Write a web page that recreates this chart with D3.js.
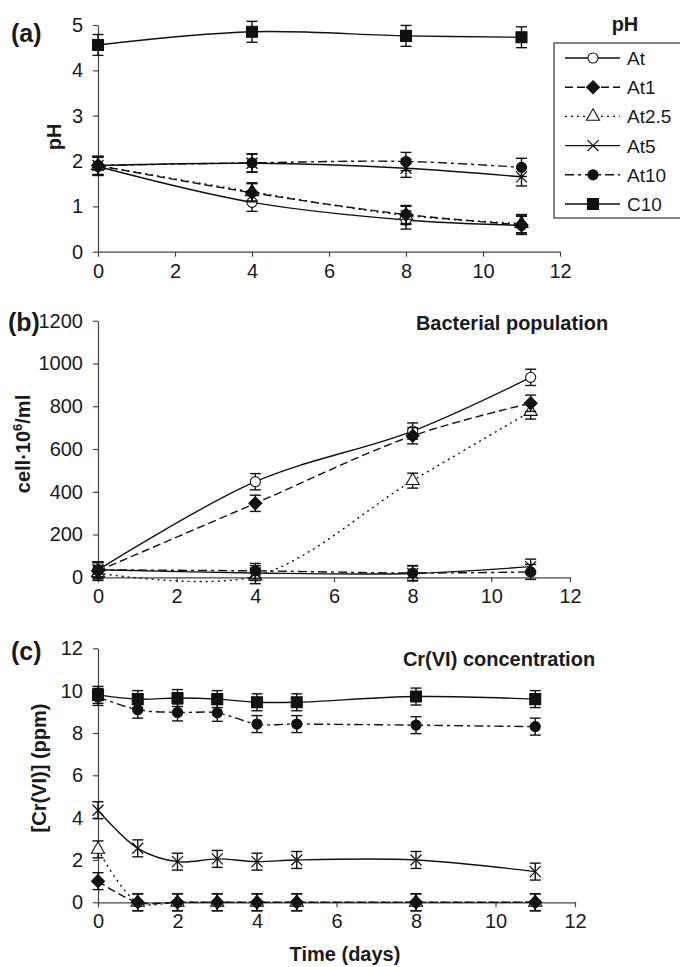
<!DOCTYPE html>
<html>
<head>
<meta charset="utf-8">
<script src="https://cdn.jsdelivr.net/npm/d3@7"></script>
<style>
  body { margin: 0; background: #fff; }
  svg { display: block; font-family: "Liberation Sans", Arial, sans-serif; }
</style>
</head>
<body>
<svg width="680" height="967"></svg>
<script>
// ---- data ----
const seriesNames = ["At", "At1", "At2.5", "At5", "At10", "C10"];

// (a) pH
const daysA = [0, 4, 8, 11];
const phAt   = [1.88, 1.09, 0.70, 0.58];
const phAt1  = [1.90, 1.30, 0.82, 0.59];
const phAt25 = [1.90, 1.32, 0.80, 0.62];
const phAt5  = [1.90, 1.95, 1.84, 1.65];
const phAt10 = [1.90, 1.96, 1.99, 1.86];
const phC10  = [4.56, 4.85, 4.76, 4.73];
const phErr  = [0.2, 0.2, 0.2, 0.2, 0.2, 0.23];

// (b) bacterial population, cell*10^6/ml
const daysB = [0, 4, 8, 11];
const popAt   = [35, 447, 684, 935];
const popAt1  = [30, 346, 662, 814];
const popAt25 = [20, 5, 452, 775];
const popAt5  = [35, 20, 18, 50];
const popAt10 = [35, 30, 20, 25];
const popErr  = [38, 38, 35, 35, 35];

// (c) Cr(VI) concentration, ppm
const daysC = [0, 1, 2, 3, 4, 5, 8, 11];
const crAt1  = [1.0, 0, 0, 0, 0, 0, 0, 0];
const crAt25 = [2.5, 0, 0, 0, 0, 0, 0, 0];
const crAt5  = [4.35, 2.55, 1.92, 2.05, 1.92, 2.0, 2.0, 1.45];
const crAt10 = [9.7, 9.1, 8.97, 8.95, 8.42, 8.42, 8.37, 8.3];
const crC10  = [9.8, 9.6, 9.65, 9.6, 9.45, 9.45, 9.72, 9.6];
const crErr  = 0.4;

const xTicks = [0, 2, 4, 6, 8, 10, 12];

// ---- styling per series ----
const styles = {
  "At":    { dash: null,        marker: "circle",   fill: "#fff" },
  "At1":   { dash: "8,4",       marker: "diamond",  fill: "#111" },
  "At2.5": { dash: "2,4",       marker: "triangle", fill: "#fff" },
  "At5":   { dash: null,        marker: "x",        fill: "none" },
  "At10":  { dash: "9,4,3,4",   marker: "circle",   fill: "#111" },
  "C10":   { dash: null,        marker: "square",   fill: "#111" }
};

const svg = d3.select("svg");
const curve = d3.curveCatmullRom.alpha(0.5);

function markerPath(kind) {
  if (kind === "x") return "M-5.5,-5.5L5.5,5.5M-5.5,5.5L5.5,-5.5";
  if (kind === "diamond") return "M0,-6.5L6.5,0L0,6.5L-6.5,0Z";
  const types = { circle: d3.symbolCircle, triangle: d3.symbolTriangle, square: d3.symbolSquare };
  const sizes = { circle: 80, triangle: 75, square: 120 };
  return d3.symbol(types[kind], sizes[kind])();
}

function drawPanel(cfg) {
  const g = svg.append("g");
  const x = d3.scaleLinear().domain([0, 12]).range(cfg.xr);
  const y = d3.scaleLinear().domain(cfg.yd).range(cfg.yr);

  const xa = g.append("g")
    .attr("transform", `translate(0,${cfg.yr[0]})`)
    .call(d3.axisBottom(x).tickValues(xTicks).tickFormat(d3.format("d"))
      .tickSize(5).tickPadding(7).tickSizeOuter(0));
  const ya = g.append("g")
    .attr("transform", `translate(${cfg.xr[0]},0)`)
    .call(d3.axisLeft(y).tickValues(cfg.yTicks).tickFormat(d3.format("d"))
      .tickSize(5).tickPadding(10).tickSizeOuter(0));
  [xa, ya].forEach(a => {
    a.attr("font-family", null).attr("font-size", null);
    a.selectAll("path, line").attr("stroke", "#444").attr("stroke-width", 1.2);
    a.selectAll("text").attr("font-size", 20).attr("fill", "#1a1a1a");
  });

  const line = d3.line().x(d => x(d[0])).y(d => y(d[1])).curve(curve);

  cfg.series.forEach(s => {
    const st = styles[s.name];
    const pts = s.values.map((v, i) => [cfg.days[i], v]);
    g.append("path")
      .attr("d", line(pts))
      .attr("fill", "none")
      .attr("stroke", "#111")
      .attr("stroke-width", 1.4)
      .attr("stroke-dasharray", st.dash);

    const eb = g.append("g").attr("stroke", "#111").attr("stroke-width", 1.4);
    pts.forEach(p => {
      const px = x(p[0]), y1 = y(p[1] + s.err), y2 = y(p[1] - s.err);
      eb.append("line").attr("x1", px).attr("x2", px).attr("y1", y1).attr("y2", y2);
      eb.append("line").attr("x1", px - 5.5).attr("x2", px + 5.5).attr("y1", y1).attr("y2", y1);
      eb.append("line").attr("x1", px - 5.5).attr("x2", px + 5.5).attr("y1", y2).attr("y2", y2);
    });

    g.append("g").selectAll("path")
      .data(pts)
      .join("path")
      .attr("transform", d => `translate(${x(d[0])},${y(d[1])})`)
      .attr("d", markerPath(st.marker))
      .attr("fill", st.fill)
      .attr("stroke", "#111")
      .attr("stroke-width", st.marker === "x" ? 1.3 : 1.1);
  });

  g.append("text")
    .attr("x", cfg.labelPos[0]).attr("y", cfg.labelPos[1])
    .attr("font-size", 25).attr("font-weight", "bold").attr("fill", "#1a1a1a")
    .text(cfg.label);

  g.append("text")
    .attr("transform", `translate(${cfg.yTitlePos[0]},${cfg.yTitlePos[1]}) rotate(-90)`)
    .attr("text-anchor", "middle")
    .attr("font-size", 20).attr("font-weight", "bold").attr("fill", "#1a1a1a")
    .call(cfg.yTitle);

  if (cfg.title) {
    g.append("text")
      .attr("x", cfg.title[1]).attr("y", cfg.title[2])
      .attr("text-anchor", "middle")
      .attr("font-size", 20).attr("font-weight", "bold").attr("fill", "#1a1a1a")
      .text(cfg.title[0]);
  }
}

drawPanel({
  xr: [98, 560], yr: [251.7, 25], yd: [0, 5], yTicks: [0, 1, 2, 3, 4, 5],
  days: daysA, label: "(a)", labelPos: [11, 42],
  yTitlePos: [61, 137], yTitle: t => t.text("pH"),
  series: [
    { name: "At", values: phAt, err: phErr[0] },
    { name: "At2.5", values: phAt25, err: phErr[2] },
    { name: "At1", values: phAt1, err: phErr[1] },
    { name: "At5", values: phAt5, err: phErr[3] },
    { name: "At10", values: phAt10, err: phErr[4] },
    { name: "C10", values: phC10, err: phErr[5] }
  ]
});

drawPanel({
  xr: [98, 570], yr: [577.3, 320.7], yd: [0, 1200], yTicks: [0, 200, 400, 600, 800, 1000, 1200],
  days: daysB, label: "(b)", labelPos: [8, 331],
  yTitlePos: [30, 444],
  yTitle: t => {
    t.append("tspan").text("cell·10");
    t.append("tspan").attr("font-size", 13).attr("dy", -8).text("6");
    t.append("tspan").attr("dy", 8).text("/ml");
  },
  title: ["Bacterial population", 512, 330],
  series: [
    { name: "At", values: popAt, err: popErr[0] },
    { name: "At2.5", values: popAt25, err: popErr[2] },
    { name: "At1", values: popAt1, err: popErr[1] },
    { name: "At5", values: popAt5, err: popErr[3] },
    { name: "At10", values: popAt10, err: popErr[4] }
  ]
});

drawPanel({
  xr: [98, 575], yr: [902.3, 648.3], yd: [0, 12], yTicks: [0, 2, 4, 6, 8, 10, 12],
  days: daysC, label: "(c)", labelPos: [11, 660],
  yTitlePos: [46, 768], yTitle: t => t.text("[Cr(VI)] (ppm)"),
  title: ["Cr(VI) concentration", 499, 666],
  series: [
    { name: "At2.5", values: crAt25, err: crErr },
    { name: "At1", values: crAt1, err: crErr },
    { name: "At5", values: crAt5, err: crErr },
    { name: "At10", values: crAt10, err: crErr },
    { name: "C10", values: crC10, err: crErr }
  ]
});

// x-axis title
svg.append("text")
  .attr("x", 345).attr("y", 961)
  .attr("text-anchor", "middle")
  .attr("font-size", 20).attr("font-weight", "bold").attr("fill", "#1a1a1a")
  .text("Time (days)");

// ---- legend ----
const legend = svg.append("g");
legend.append("text")
  .attr("x", 625).attr("y", 31)
  .attr("text-anchor", "middle")
  .attr("font-size", 20).attr("font-weight", "bold").attr("fill", "#1a1a1a")
  .text("pH");
legend.append("rect")
  .attr("x", 554).attr("y", 43).attr("width", 140).attr("height", 175)
  .attr("fill", "none").attr("stroke", "#333").attr("stroke-width", 1.2);

const ly = d3.scalePoint().domain(seriesNames).range([58, 204]);
seriesNames.forEach(n => {
  const st = styles[n];
  const row = legend.append("g").attr("transform", `translate(0,${ly(n)})`);
  row.append("line")
    .attr("x1", 565).attr("x2", 620)
    .attr("stroke", "#111").attr("stroke-width", 1.4)
    .attr("stroke-dasharray", st.dash);
  row.append("path")
    .attr("transform", "translate(593,0)")
    .attr("d", markerPath(st.marker))
    .attr("fill", st.fill).attr("stroke", "#111")
    .attr("stroke-width", st.marker === "x" ? 1.3 : 1.1);
  row.append("text")
    .attr("x", 627).attr("y", 7)
    .attr("font-size", 19).attr("fill", "#1a1a1a")
    .text(n);
});
</script>
</body>
</html>
